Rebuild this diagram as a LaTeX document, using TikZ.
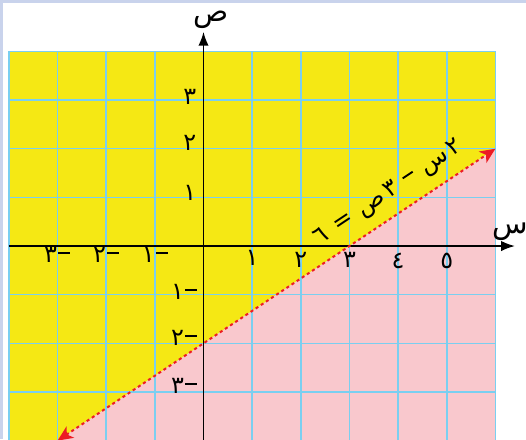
\documentclass[tikz,border=0pt]{standalone}
\usepackage{fontspec}
\usetikzlibrary{arrows.meta}
\newfontfamily\arabicfont[Script=Arabic]{DejaVu Sans}
\definecolor{bgyellow}{HTML}{F5E814}
\definecolor{bgpink}{HTML}{F9C8CD}
\definecolor{gridblue}{HTML}{7ACFF0}
\definecolor{linered}{HTML}{EC1C24}
\definecolor{framebar}{HTML}{C9D3EC}
\newcommand{\ad}[1]{\hbox{\arabicfont #1}}
\newcommand{\adash}{\hbox{\rule[0.36em]{0.5em}{0.08em}}}
\newcommand{\adneg}[1]{\ad{#1}\hspace{0.05em}\adash}
\begin{document}
\begin{tikzpicture}[
  tick/.style={inner sep=0pt, font=\fontsize{14}{16}\selectfont},
  axislab/.style={inner sep=0pt, font=\fontsize{17}{20}\selectfont\arabicfont},
  axisline/.style={line width=0.8pt, -{Latex[length=8pt,width=6pt]}},
  boundary/.style={linered, line width=1.2pt, dash pattern=on 1.8pt off 1.8pt,
     {Stealth[length=9pt,width=8pt,inset=2.5pt]}-{Stealth[length=9pt,width=8pt,inset=2.5pt]}}
]
\useasboundingbox (-4.183,-3.967) rectangle (6.629,5.057);
\fill[white] (-4.183,-3.967) rectangle (6.629,5.057);
\fill[framebar] (-4.183,4.995) rectangle (6.629,5.057);
\fill[framebar] (-4.183,-3.967) rectangle (-4.121,5.057);
% regions
\fill[bgyellow] (-4,-4) rectangle (6,4);
\fill[bgpink] (-3,-4) -- (6,2) -- (6,-4) -- cycle;
% grid
\draw[gridblue, line width=0.9pt] (-4,-4) grid (6,4);
% axes
\coordinate (xs) at (-4,0);
\coordinate (xe) at (6.4,0);
\coordinate (ys) at (0,-4);
\coordinate (ye) at (0,4.4);
\draw[axisline] (xs) -- (xe);
\draw[axisline] (ys) -- (ye);
\node[axislab] (labx) at (6.3,0.3) {س};
\node[axislab] (laby) at (0.15,4.66) {ص};
% boundary line 2x-3y=6
\coordinate (la) at (-3,-4);
\coordinate (lb) at (6,2);
\draw[boundary] (la) -- (lb);
\node[inner sep=0pt, rotate=33.69, font=\fontsize{14}{16}\selectfont] (eq) at (3.81,1.08)
  {\ad{٦}\hspace{0.4em}\ad{=}\hspace{0.4em}\ad{ص}\hspace{0.12em}\ad{٣}\hspace{0.4em}\adash\hspace{0.4em}\ad{س}\hspace{0.12em}\ad{٢}};
% x ticks
\node[tick] (xm3) at (-3.01,-0.19) {\adneg{٣}};
\node[tick] (xm2) at (-2.0,-0.19) {\adneg{٢}};
\node[tick] (xm1) at (-1.0,-0.19) {\adneg{١}};
\node[tick] (x1) at (1,-0.25) {\ad{١}};
\node[tick] (x2) at (2,-0.29) {\ad{٢}};
\node[tick] (x3) at (3,-0.29) {\ad{٣}};
\node[tick] (x4) at (4,-0.31) {\ad{٤}};
\node[tick] (x5) at (5,-0.31) {\ad{٥}};
% y ticks
\node[tick] (y3) at (-0.28,3.06) {\ad{٣}};
\node[tick] (y2) at (-0.28,2.12) {\ad{٢}};
\node[tick] (y1) at (-0.28,1.09) {\ad{١}};
\node[tick] (ym1) at (-0.40,-0.95) {\adneg{١}};
\node[tick] (ym2) at (-0.40,-1.89) {\adneg{٢}};
\node[tick] (ym3) at (-0.40,-2.88) {\adneg{٣}};
\end{tikzpicture}
\end{document}
